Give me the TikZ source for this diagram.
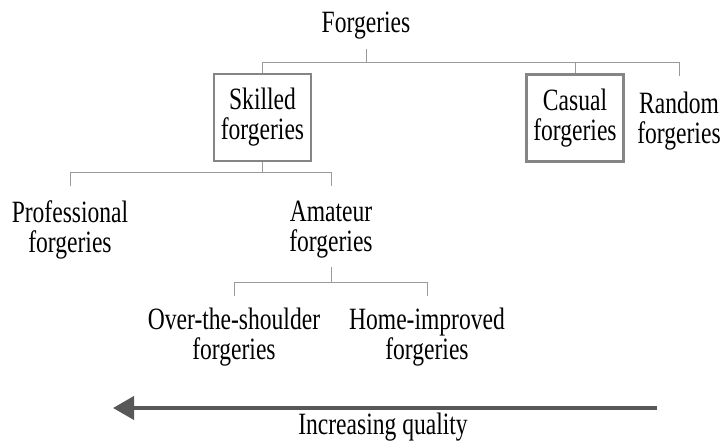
\documentclass[tikz,border=0pt]{standalone}
\usepackage{fontspec}
\setmainfont{Liberation Serif}[FakeStretch=0.76]
\usetikzlibrary{arrows.meta}
\definecolor{linegray}{HTML}{9A9A9A}
\definecolor{boxgray}{HTML}{858585}
\definecolor{arrowgray}{HTML}{585858}
\tikzset{
  lbl/.style={align=center,inner sep=0pt,font=\fontsize{31}{30}\selectfont},
  kindbox/.style={lbl,draw=boxgray,line width=2.5pt,minimum width=97pt,minimum height=87pt},
  link/.style={draw=linegray,line width=1pt},
  qarrow/.style={draw=arrowgray,line width=4pt,-{Triangle[length=21pt,width=23pt]}}
}
\begin{document}
\begin{tikzpicture}[x=1pt,y=-1pt]
\useasboundingbox (0,0) rectangle (720,441);
% labels
\node[lbl] (forg) at (366,26) {Forgeries};
\node[kindbox] (skill) at (262.5,117.5) {Skilled\\forgeries};
\node[kindbox] (casual) at (575,118) {Casual\\forgeries};
\node[lbl] (rand) at (679,121) {Random\\forgeries};
\node[lbl] (prof) at (70,230) {Professional\\forgeries};
\node[lbl] (amat) at (331,230) {Amateur\\forgeries};
\node[lbl] (over) at (234,337) {Over-the-shoulder\\forgeries};
\node[lbl] (home) at (427,337) {Home-improved\\forgeries};
% bar rows
\coordinate (r1) at (0,63);
\coordinate (r2) at (0,172);
\coordinate (r3) at (0,282);
% top level
\draw[link] ([yshift=-9pt]forg.south) -- (forg |- r1);
\draw[link] (skill.north) -- (skill |- r1) -- (rand |- r1) -- ([yshift=16pt]rand.north);
\draw[link] (casual |- r1) -- (casual.north);
% skilled
\draw[link] (skill.south) -- (skill |- r2);
\draw[link] ([yshift=15pt]prof.north) -- (prof |- r2) -- (amat |- r2) -- ([yshift=15pt]amat.north);
% amateur
\draw[link] ([yshift=-8pt]amat.south) -- (amat |- r3);
\draw[link] ([yshift=12pt]over.north) -- (over |- r3) -- (home |- r3) -- ([yshift=12pt]home.north);
% quality
\coordinate (qhi) at (657,408);
\coordinate (qlo) at (113,408);
\draw[qarrow] (qhi) -- (qlo);
\node[lbl] (qual) at (383,427) {Increasing quality};
\end{tikzpicture}
\end{document}
